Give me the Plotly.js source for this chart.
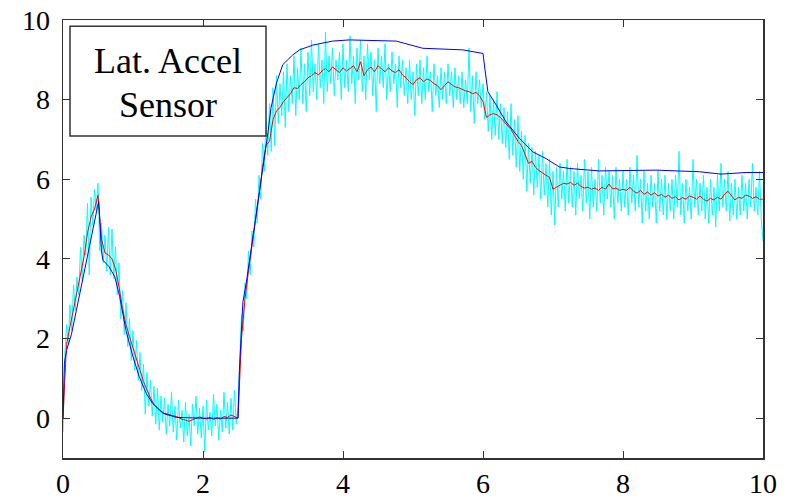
<!DOCTYPE html>
<html>
<head>
<meta charset="utf-8">
<script src="https://cdn.plot.ly/plotly-3.0.1.min.js"></script>
<style>html,body{margin:0;padding:0;background:#fff;}#chart{width:787px;height:499px;}</style>
</head>
<body>
<div id="chart"></div>
<script>
// Sampling step of the raw sensor (cyan) and filtered (red) signals, in seconds
var sensorStep = 0.025;
var filterStep = 0.05;

// Raw lateral acceleration sensor (cyan), one value every 0.025 s from 0 to 10
var sensorValues = [
-0.35,1.55,2.35,1.85,2.85,2.2,3.35,2.7,3.55,3.1,
4.3,3.45,4.6,4.1,5.4,3.6,5.55,4.85,5.75,5.2,
5.9,4.2,4.9,3.9,4.6,3.7,4.8,3.6,4.75,3.5,
4.3,3.1,3.9,2.5,3.2,2.1,2.9,1.8,2.5,1.45,
2.2,1.2,1.95,0.95,1.65,0.7,1.35,0.1,1.15,0.3,
0.95,0.05,0.8,-0.15,0.75,-0.3,0.55,-0.1,0.5,-0.4,
0.35,-0.2,0.65,-0.35,0.3,-0.55,0.45,-0.25,0.2,-0.6,
0.4,-0.45,0.1,-0.7,0.35,-0.2,0.55,-0.4,0.25,-0.5,
0.3,-0.85,0.45,-0.3,0.15,-0.45,0.6,-0.2,0.35,-0.55,
0.2,-0.35,0.65,-0.25,0.4,-0.4,0.5,-0.3,0.7,-0.15,
0.3,1.6,2.6,2.2,3.4,3.0,4.2,3.6,4.7,4.3,
5.5,4.9,6.1,5.5,6.9,6.2,7.5,6.6,7.9,6.7,
8.3,6.85,8.6,7.4,8.4,7.6,8.7,7.3,8.9,7.7,
8.6,7.9,9.1,7.6,8.8,8.0,9.3,7.9,8.9,7.7,
9.2,8.1,9.5,8.2,8.9,8.0,9.4,8.3,9.0,7.9,
9.7,8.2,9.1,8.4,9.3,8.1,9.0,8.5,9.2,8.0,
9.4,8.3,9.0,8.2,9.6,8.4,9.1,7.9,9.3,8.5,
9.5,8.2,9.1,8.0,9.4,8.5,9.2,8.1,9.0,7.7,
9.3,8.4,9.1,8.3,9.4,8.0,8.9,8.2,9.2,8.4,
8.9,7.8,9.1,8.3,9.0,8.1,8.8,7.9,9.0,8.0,
8.7,7.6,8.9,8.1,9.0,7.9,8.8,8.0,9.1,8.2,
8.7,7.7,8.9,8.1,8.6,7.8,8.8,8.0,8.7,7.9,
8.9,8.1,8.7,7.8,8.8,8.0,8.6,7.9,8.7,7.8,
8.5,7.9,9.3,7.7,8.6,7.4,8.7,7.9,8.5,7.8,
8.4,7.5,8.2,7.2,8.1,7.0,8.0,7.1,8.2,7.0,
7.9,6.9,7.8,6.8,7.7,6.5,7.9,6.6,7.5,6.3,
7.6,6.2,7.2,6.0,7.1,5.7,6.9,5.9,6.8,5.6,
6.7,5.8,6.6,5.5,6.7,5.6,6.4,5.3,6.5,5.1,
6.2,4.85,6.3,5.3,6.4,5.5,6.2,5.2,6.5,5.4,
6.3,5.3,6.2,5.1,6.4,5.5,6.1,5.2,6.5,5.4,
6.2,5.0,6.3,5.3,6.0,5.2,6.5,5.4,6.1,5.1,
6.3,5.5,6.2,5.3,6.1,5.0,6.3,5.4,6.0,5.2,
6.2,5.3,6.0,5.1,6.3,5.4,6.1,5.2,6.6,5.3,
6.0,4.9,6.2,5.2,5.9,5.0,6.1,5.3,5.9,4.9,
6.2,5.2,6.0,5.1,6.1,5.0,5.9,5.2,6.0,5.0,
6.1,5.3,6.7,5.1,5.9,4.9,6.0,5.2,5.8,5.0,
6.5,5.3,6.0,5.1,5.9,5.2,6.1,5.0,5.8,4.9,
6.0,5.1,5.8,4.8,6.1,5.2,6.4,5.3,6.0,5.2,
6.2,4.95,5.9,5.1,6.0,5.0,5.8,5.1,6.1,5.2,
5.9,5.0,6.0,5.3,6.4,5.2,5.8,5.1,6.2,5.0,
4.45
];

// Filtered estimate (red), one value every 0.05 s from 0 to 10
var filteredValues = [
0,1.85,2.3,2.75,3.15,3.6,4.05,4.65,5.05,5.25,
5.6,4.5,4.15,4.1,4.0,3.75,3.3,2.75,2.35,2.05,
1.75,1.45,1.2,0.92,0.72,0.5,0.35,0.25,0.18,0.12,
0.1,0.08,0.05,0.02,-0.03,-0.05,-0.08,-0.04,0.0,0.03,
0.0,-0.02,0.02,-0.03,0.01,-0.02,0.04,0.02,0.08,0.03,
0.0,2.0,3.0,3.7,4.3,5.0,5.6,6.3,6.85,6.95,
7.5,7.72,7.8,7.95,8.05,8.15,8.3,8.28,8.38,8.45,
8.55,8.6,8.68,8.62,8.72,8.78,8.7,8.82,8.75,8.68,
8.8,8.72,8.78,8.85,8.7,8.95,8.6,8.75,8.82,8.7,
8.85,8.78,8.7,8.8,8.72,8.68,8.75,8.62,8.55,8.45,
8.38,8.5,8.55,8.45,8.52,8.48,8.4,8.35,8.25,8.35,
8.45,8.38,8.32,8.3,8.25,8.22,8.2,8.15,8.18,8.1,
7.95,7.55,7.62,7.65,7.62,7.55,7.45,7.35,7.25,7.1,
6.95,6.85,6.6,6.4,6.45,6.3,6.22,6.15,6.1,6.05,
5.75,5.8,5.85,5.9,5.88,5.92,5.85,5.9,5.82,5.78,
5.8,5.75,5.78,5.72,5.8,5.75,5.88,5.76,5.78,5.72,
5.75,5.72,5.8,5.7,5.65,5.72,5.62,5.68,5.6,5.66,
5.58,5.62,5.55,5.6,5.52,5.56,5.48,5.54,5.5,5.58,
5.55,5.5,5.58,5.5,5.45,5.52,5.48,5.55,5.5,5.62,
5.7,5.6,5.48,5.55,5.52,5.6,5.58,5.52,5.56,5.5,
5.5
];

// Model / reference response (blue), at its own time points
var modelTime = [0,0.02,0.05,0.12,0.19,0.28,0.38,0.46,0.51,0.55,0.57,0.66,0.74,0.81,0.9,1.0,1.09,1.19,1.28,1.43,1.62,2.0,2.5,2.52,2.55,2.57,2.62,2.71,2.81,2.88,2.93,2.97,3.05,3.14,3.28,3.38,3.57,3.85,4.09,4.76,5.14,5.71,6.0,6.02,6.04,6.07,6.19,6.33,6.52,6.71,6.9,7.09,7.24,7.66,8.47,9.09,9.4,9.76,10];
var modelValues = [0,1.38,1.7,2.1,2.7,3.45,4.3,4.95,5.45,4.2,3.97,3.8,3.55,3.05,2.2,1.54,1.04,0.62,0.37,0.12,0.02,0,0,1.2,2.2,2.92,3.42,4.5,5.69,6.52,7.2,7.78,8.42,8.88,9.12,9.25,9.37,9.47,9.5,9.47,9.29,9.25,9.16,8.87,8.53,8.2,7.86,7.44,7.03,6.69,6.52,6.31,6.27,6.21,6.23,6.19,6.13,6.17,6.17];

var xTicks = [0,2,4,6,8,10];
var yTicks = [0,2,4,6,8,10];
var boxLines = ["Lat. Accel", "Sensor"];

var sensorTime = sensorValues.map(function(_, i){ return +(i*sensorStep).toFixed(3); });
var filterTime = filteredValues.map(function(_, i){ return +(i*filterStep).toFixed(3); });

var serif = "Liberation Serif, Times New Roman, Times, serif";

var traces = [
  {x: sensorTime, y: sensorValues, type: 'scatter', mode: 'lines', line: {color: '#00FFFF', width: 1}, hoverinfo: 'skip'},
  {x: filterTime, y: filteredValues, type: 'scatter', mode: 'lines', line: {color: '#FF0000', width: 1}, hoverinfo: 'skip'},
  {x: modelTime, y: modelValues, type: 'scatter', mode: 'lines', line: {color: '#0000FF', width: 1}, hoverinfo: 'skip'}
];

var axisCommon = {
  showgrid: false, zeroline: false, showline: true, mirror: 'ticks',
  linecolor: '#333', linewidth: 1.5, ticks: 'inside', ticklen: 7, tickwidth: 1,
  tickcolor: '#333', tickfont: {family: serif, size: 28, color: '#000'}
};

var layout = {
  width: 787, height: 499,
  margin: {l: 63, r: 24, t: 20, b: 41},
  paper_bgcolor: '#fff', plot_bgcolor: '#fff',
  showlegend: false,
  xaxis: Object.assign({}, axisCommon, {range: [0, 10], tickvals: xTicks, ticktext: xTicks.map(String), ticklabelstandoff: 0}),
  yaxis: Object.assign({}, axisCommon, {range: [-1, 10], tickvals: yTicks, ticktext: yTicks.map(String), ticklabelstandoff: 6}),
  shapes: [{type: 'rect', xref: 'paper', yref: 'paper', x0: 0.01, x1: 0.29, y0: 0.735, y1: 0.986,
            line: {color: '#333', width: 1.5}, fillcolor: '#fff', layer: 'above'}],
  annotations: [
    {xref: 'paper', yref: 'paper', x: 0.15, y: 0.906, xanchor: 'center', yanchor: 'middle', showarrow: false,
     text: boxLines[0], font: {family: serif, size: 36, color: '#000'}},
    {xref: 'paper', yref: 'paper', x: 0.15, y: 0.807, xanchor: 'center', yanchor: 'middle', showarrow: false,
     text: boxLines[1], font: {family: serif, size: 36, color: '#000'}}
  ]
};

Plotly.newPlot('chart', traces, layout, {staticPlot: true, displayModeBar: false});
</script>
</body>
</html>
